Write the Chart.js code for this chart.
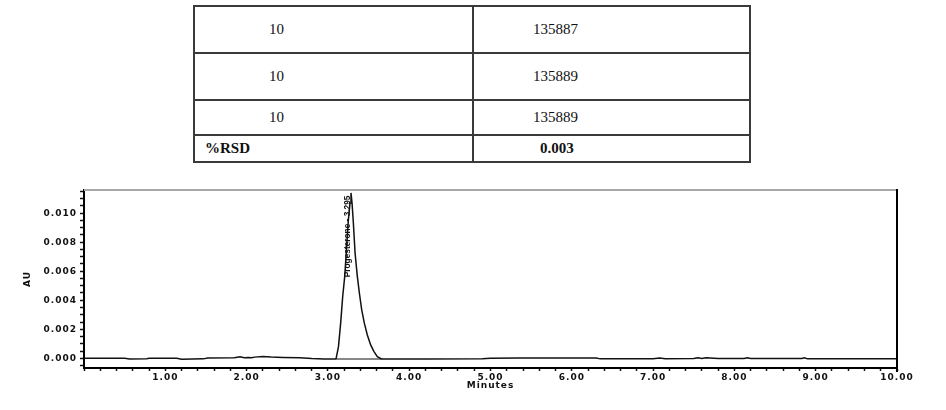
<!DOCTYPE html>
<html>
<head>
<meta charset="utf-8">
<script src="https://cdn.jsdelivr.net/npm/chart.js@4.4.1/dist/chart.umd.min.js"></script>
<style>
  html, body { margin: 0; padding: 0; background: #fff; }
  #wrap { position: relative; width: 946px; height: 410px; overflow: hidden; background: #fff; }
  #c { position: absolute; left: 0; top: 0; }
  #tbl { position: absolute; left: 193px; top: 5px; width: 558px; border-collapse: collapse;
         font-family: "Liberation Serif", "Times New Roman", serif; font-size: 15px; color: #111; }
  #tbl td { border: 2px solid #3a3a3a; padding: 0; vertical-align: middle; box-sizing: border-box; }
  #tbl td.c1 { width: 279px; }
  #tbl tr.last td { font-weight: bold; }
</style>
</head>
<body>
<div id="wrap">
  <table id="tbl"><tbody id="tbody"></tbody></table>
  <canvas id="c" width="946" height="410"></canvas>
</div>
<script>
// ---- table data ----
const tableCol1 = ['10', '10', '10', '%RSD'];
const tableCol2 = ['135887', '135889', '135889', '0.003'];

// ---- chromatogram data (retention time in minutes, absorbance in AU) ----
const retentionTimes = [
  0.00, 0.50, 0.56, 0.77, 0.80, 1.14, 1.20, 1.47, 1.52, 1.85, 1.92, 1.97, 2.02, 2.06, 2.10,
  2.20, 2.30, 2.45, 2.65, 2.80, 2.95, 3.10,
  3.13, 3.157, 3.182, 3.207, 3.231, 3.252, 3.272, 3.284, 3.297, 3.313, 3.334, 3.362, 3.387,
  3.416, 3.448, 3.485, 3.526, 3.567, 3.608, 3.66,
  4.20, 4.90, 5.00, 5.35, 6.30, 6.35, 7.00, 7.08, 7.15, 7.50, 7.55, 7.60, 7.65, 7.80,
  8.12, 8.16, 8.20, 8.83, 8.86, 8.90, 10.00
];
const absorbance = [
  0.00000, 0.00000, -0.00005, -0.00003, 0.00000, 0.00000, -0.00006, -0.00004, 0.00002, 0.00003,
  0.00010, 0.00004, 0.00006, 0.00003, 0.00008, 0.00012, 0.00008, 0.00006, 0.00004, -0.00002,
  -0.00005, -0.00005,
  0.00080, 0.00242, 0.00426, 0.00565, 0.00772, 0.00957, 0.01070, 0.01140, 0.01070, 0.00934,
  0.00727, 0.00565, 0.00450, 0.00334, 0.00242, 0.00161, 0.00092, 0.00046, 0.00011, -0.00005,
  -0.00005, -0.00003, 0.00000, 0.00002, 0.00002, -0.00004, -0.00004, 0.00002, -0.00003,
  -0.00002, 0.00003, -0.00001, 0.00003, -0.00002, -0.00002, 0.00004, -0.00002, -0.00002,
  0.00004, -0.00004, -0.00004
];
// integration baseline under the peak
const integrationX = [3.108, 3.66];
const integrationY = [-0.00005, -0.00005];

// ---- axis labels ----
const xTickLabels = ['1.00', '2.00', '3.00', '4.00', '5.00', '6.00', '7.00', '8.00', '9.00', '10.00'];
const yTickLabels = ['0.000', '0.002', '0.004', '0.006', '0.008', '0.010'];
const xTitle = 'Minutes';
const yTitle = 'AU';
const peakLabel = 'Progesterone - 3.295';
const peakLabelX = 3.24;    // minutes
const peakLabelY = 0.0084;  // AU

// ---- build table ----
const tbody = document.getElementById('tbody');
const rowHeights = [47, 47, 35, 27];
tableCol1.forEach((t, i) => {
  const tr = document.createElement('tr');
  const last = i === tableCol1.length - 1;
  if (last) tr.className = 'last';
  tr.style.height = rowHeights[i] + 'px';
  const a = document.createElement('td'); a.className = 'c1';
  a.textContent = t; a.style.paddingLeft = last ? '10px' : '74px';
  const b = document.createElement('td');
  b.textContent = tableCol2[i]; b.style.paddingLeft = last ? '66px' : '59px';
  tr.appendChild(a); tr.appendChild(b);
  tbody.appendChild(tr);
});

// ---- chart ----
const axisFont = { family: 'DejaVu Sans', size: 9, weight: 'bold' };

const decorPlugin = {
  id: 'decor',
  beforeDraw(chart) {
    chart.ctx.letterSpacing = '1px';
  },
  afterDatasetsDraw(chart) {
    const { ctx, scales } = chart;
    ctx.save();
    ctx.letterSpacing = '0px';
    const px = scales.x.getPixelForValue(peakLabelX);
    const py = scales.y.getPixelForValue(peakLabelY);
    ctx.translate(px, py);
    ctx.rotate(-Math.PI / 2);
    ctx.font = 'bold 8.3px "Liberation Sans Narrow", "Liberation Sans", Arial, sans-serif';
    ctx.fillStyle = '#111';
    ctx.textAlign = 'center';
    ctx.textBaseline = 'middle';
    ctx.fillText(peakLabel, 0, 0);
    ctx.restore();
  },
  afterDraw(chart) {
    const { ctx, chartArea: a } = chart;
    ctx.save();
    ctx.strokeStyle = '#a8a8a8';
    ctx.lineWidth = 2;
    ctx.beginPath(); ctx.moveTo(a.left, a.top); ctx.lineTo(a.right, a.top); ctx.stroke();
    ctx.strokeStyle = '#000';
    ctx.lineWidth = 2;
    ctx.beginPath(); ctx.moveTo(a.right, a.top - 1); ctx.lineTo(a.right, a.bottom + 4); ctx.stroke();
    ctx.restore();
  }
};

new Chart(document.getElementById('c'), {
  type: 'line',
  data: {
    datasets: [
      {
        data: retentionTimes.map((x, i) => ({ x, y: absorbance[i] })),
        borderColor: '#111', borderWidth: 1.5, pointRadius: 0, tension: 0, fill: false
      },
      {
        data: integrationX.map((x, i) => ({ x, y: integrationY[i] })),
        borderColor: '#111', borderWidth: 1, pointRadius: 0, tension: 0, fill: false
      }
    ]
  },
  options: {
    responsive: false,
    animation: false,
    devicePixelRatio: 1,
    layout: { padding: { left: 0, top: 190, right: 49, bottom: 0 } },
    plugins: { legend: { display: false }, tooltip: { enabled: false } },
    scales: {
      x: {
        type: 'linear', min: 0, max: 10,
        afterFit(s) { s.height = 42; },
        ticks: {
          stepSize: 0.2, autoSkip: false, maxRotation: 0, minRotation: 0, includeBounds: false,
          padding: 1, color: '#111', font: axisFont,
          callback(v) {
            const r = Math.round(v);
            return (Math.abs(v - r) < 1e-6 && r >= 1) ? xTickLabels[r - 1] : '';
          }
        },
        grid: { drawOnChartArea: false, drawTicks: true, tickLength: 3, color: '#111', tickWidth: 1.5 },
        border: { display: true, color: '#000', width: 2 },
        title: { display: true, text: xTitle, color: '#111', font: axisFont, padding: { top: 0, bottom: 19 } }
      },
      y: {
        type: 'linear', min: -0.00067, max: 0.0116,
        afterFit(s) { s.width = 84; },
        ticks: {
          stepSize: 0.0005, autoSkip: false, includeBounds: false, padding: 3, color: '#111', font: axisFont,
          callback(v) {
            const k = Math.round(v / 0.002);
            return (Math.abs(v - k * 0.002) < 1e-7 && k >= 0 && k < yTickLabels.length) ? yTickLabels[k] : '';
          }
        },
        grid: { drawOnChartArea: false, drawTicks: true, tickLength: 4, color: '#111', tickWidth: 1.5 },
        border: { display: true, color: '#000', width: 2 },
        title: { display: true, text: yTitle, color: '#111', font: axisFont, padding: { top: 22, bottom: 0 } }
      }
    }
  },
  plugins: [decorPlugin]
});
</script>
</body>
</html>
